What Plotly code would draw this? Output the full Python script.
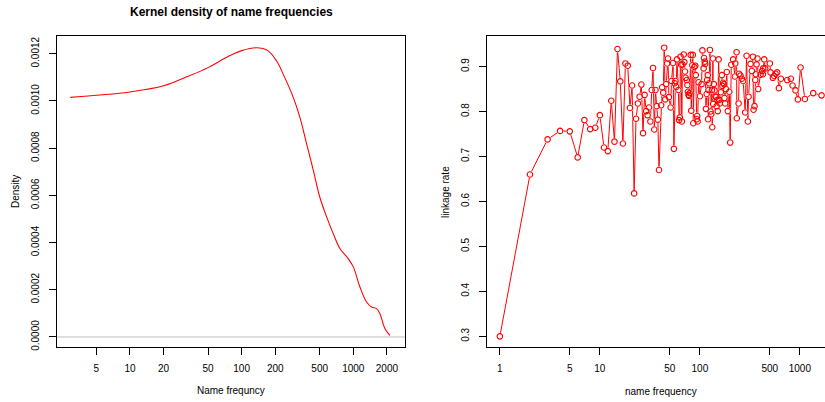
import plotly.graph_objects as go

# ---------------- data ----------------
# Left panel: kernel density of name frequencies
dens_freq = [2.92, 5, 10, 20, 32.2, 50, 73.4, 100, 136, 170, 205, 240, 290, 332.5,
             381.8, 438, 500, 576.8, 661, 759, 899.6, 1000, 1146, 1315, 1458, 1617,
             1729, 1917, 2128]
dens_val = [0.001015, 0.001024, 0.001038, 0.001064, 0.001102, 0.001141, 0.001185, 0.001213,
            0.001225, 0.001214, 0.001170, 0.001105, 0.001015, 0.000930, 0.000818, 0.000707,
            0.000594, 0.000509, 0.000438, 0.000375, 0.000332, 0.000297, 0.000212, 0.000148,
            0.000127, 0.000120, 0.000099, 0.000036, 0.000007]

# Right panel: linkage rate by name frequency
freq_low = [1, 2, 3, 4, 5, 6, 7, 8, 9, 10, 11, 12, 13, 14, 15, 16, 17, 18, 19, 20, 21, 22, 23, 24,
            25, 26, 27, 28, 29, 30, 31, 32, 33, 34, 35, 36, 37, 38, 39, 41, 42, 43, 44, 45, 46, 47, 48, 49]
rate_low = [0.300, 0.660, 0.738, 0.757, 0.756, 0.698, 0.781, 0.761, 0.764, 0.792, 0.720, 0.712,
            0.824, 0.733, 0.939, 0.867, 0.729, 0.907, 0.902, 0.808, 0.858, 0.618, 0.784, 0.818,
            0.833, 0.860, 0.752, 0.837, 0.801, 0.792, 0.809, 0.778, 0.848, 0.897, 0.760, 0.848,
            0.812, 0.782, 0.670, 0.814, 0.854, 0.842, 0.942, 0.827, 0.861, 0.907, 0.918, 0.832]
freq_mid = [51, 52, 54, 55, 56, 57, 58, 59, 61, 62, 63, 64, 65, 66, 67, 69, 70, 71, 72, 74,
            75, 76, 77, 78, 79, 81, 82, 84, 85, 86, 88, 90, 91, 93, 94, 95, 97, 100]
rate_mid = [0.809, 0.868, 0.908, 0.717, 0.863, 0.868, 0.855, 0.916, 0.848, 0.781,
            0.787, 0.922, 0.904, 0.778, 0.905, 0.927, 0.910, 0.889, 0.875, 0.870,
            0.859, 0.844, 0.837, 0.835, 0.841, 0.926, 0.802, 0.903, 0.926, 0.774,
            0.899, 0.902, 0.881, 0.783, 0.790, 0.778, 0.865, 0.834]
freq_hi = [104, 106, 109, 110, 112, 113, 115, 117, 118, 120, 121, 122, 124, 126, 128, 130, 132,
           133, 135, 136, 138, 140, 143, 146, 147, 150, 151, 154, 156, 158, 162, 166, 168, 171,
           174, 176, 179, 182, 186, 190, 197]
rate_hi = [0.861, 0.936, 0.896, 0.919, 0.911, 0.906, 0.806, 0.839, 0.870, 0.881,
           0.783, 0.848, 0.863, 0.937, 0.800, 0.794, 0.848, 0.765, 0.918, 0.817,
           0.861, 0.847, 0.833, 0.833, 0.812, 0.826, 0.801, 0.916, 0.826, 0.818,
           0.843, 0.881, 0.857, 0.864, 0.861, 0.830, 0.818, 0.850, 0.888, 0.801, 0.844]
freq_top = [201, 206, 215, 224, 226, 233, 234, 244, 247, 255, 263, 271, 284, 293, 302, 307, 321,
            331, 339, 344, 352, 358, 363, 369, 377, 383, 404, 420, 427, 430, 440, 450, 501, 509,
            537, 554, 571, 593, 617, 646, 747, 813, 845, 905, 955, 1016, 1122, 1360, 1647]
rate_top = [0.731, 0.904, 0.916, 0.878, 0.907, 0.932, 0.785, 0.818, 0.884, 0.880,
            0.873, 0.868, 0.798, 0.924, 0.778, 0.833, 0.906, 0.890, 0.922, 0.804,
            0.812, 0.870, 0.883, 0.905, 0.918, 0.850, 0.882, 0.890, 0.883, 0.896,
            0.916, 0.896, 0.907, 0.887, 0.875, 0.879, 0.884, 0.887, 0.852, 0.873,
            0.870, 0.873, 0.858, 0.847, 0.827, 0.898, 0.828, 0.841, 0.836]

left_xticks = [5, 10, 20, 50, 100, 200, 500, 1000, 2000]
left_yticks = [0.0, 0.0002, 0.0004, 0.0006, 0.0008, 0.0010, 0.0012]
left_ytext = ["0.0000", "0.0002", "0.0004", "0.0006", "0.0008", "0.0010", "0.0012"]
right_xticks = [1, 5, 10, 50, 100, 500, 1000]
right_yticks = [0.3, 0.4, 0.5, 0.6, 0.7, 0.8, 0.9]

freq_all = freq_low + freq_mid + freq_hi + freq_top
rate_all = rate_low + rate_mid + rate_hi + rate_top

# ---------------- figure ----------------
W, H = 825, 402
FONT = "Liberation Sans, Arial, Helvetica, sans-serif"

def px_x(p):
    return p / W

def px_y(p):
    return 1 - p / H

fig = go.Figure()

fig.add_trace(go.Scatter(x=dens_freq, y=dens_val, mode="lines",
                         line=dict(color="red", width=1.1, shape="spline", smoothing=1.1),
                         xaxis="x", yaxis="y", hoverinfo="skip", showlegend=False))

fig.add_trace(go.Scatter(x=freq_all, y=rate_all, mode="lines",
                         line=dict(color="red", width=1),
                         xaxis="x2", yaxis="y2", showlegend=False, hoverinfo="skip"))
fig.add_trace(go.Scatter(x=freq_all, y=rate_all, mode="markers",
                         marker=dict(symbol="circle", size=7, color="white", line=dict(width=0)),
                         xaxis="x2", yaxis="y2", showlegend=False, hoverinfo="skip"))
fig.add_trace(go.Scatter(x=freq_all, y=rate_all, mode="markers",
                         marker=dict(symbol="circle-open", size=5.5, color="red", line=dict(width=1.1)),
                         xaxis="x2", yaxis="y2", showlegend=False))

# gray zero line in density plot
fig.add_shape(type="line", xref="x domain", yref="y", x0=0, x1=1, y0=0, y1=0,
              line=dict(color="#bebebe", width=1), layer="below")

axis_common = dict(showgrid=False, zeroline=False, showline=True, linecolor="black",
                   linewidth=1, ticks="outside", ticklen=7, tickcolor="black", tickwidth=1,
                   tickfont=dict(family=FONT, size=10, color="black"), automargin=False)

y_dom = [1 - 347.3 / H, 1 - 36 / H]

fig.update_layout(
    width=W, height=H, autosize=False,
    margin=dict(l=0, r=0, t=0, b=0, pad=0),
    paper_bgcolor="white", plot_bgcolor="white",
    font=dict(family=FONT, size=10, color="black"),
    xaxis=dict(type="log", range=[0.349, 3.463], domain=[57.3 / W, 405 / W], anchor="y",
               tickvals=left_xticks, ticktext=[str(v) for v in left_xticks],
               mirror=True, ticklabelstandoff=5, **axis_common),
    yaxis=dict(range=[-0.0000437, 0.001275], domain=y_dom, anchor="x",
               tickvals=left_yticks, ticktext=left_ytext, tickangle=-90,
               mirror=True, ticklabelstandoff=6, **axis_common),
    xaxis2=dict(type="log", range=[-0.1287, -0.1287 + (W - 487) / 100.0],
                domain=[487 / W, 1.0], anchor="y2",
                tickvals=right_xticks, ticktext=[str(v) for v in right_xticks],
                mirror=True, ticklabelstandoff=5, **axis_common),
    yaxis2=dict(range=[0.2757, 0.968], domain=y_dom, anchor="x2",
                tickvals=right_yticks, ticktext=[str(v) for v in right_yticks], tickangle=-90,
                mirror=False, ticklabelstandoff=6, **axis_common),
    showlegend=False,
)

ann = [
    dict(text="<b>Kernel density of name frequencies</b>", x=px_x(231.2), y=px_y(12),
         font=dict(size=12)),
    dict(text="Name frequncy", x=px_x(231.2), y=px_y(390.7), font=dict(size=10)),
    dict(text="Density", x=px_x(15), y=px_y(192), textangle=-90, font=dict(size=10)),
    dict(text="name frequency", x=px_x(660.8), y=px_y(391), font=dict(size=10)),
    dict(text="linkage rate", x=px_x(445), y=px_y(192), textangle=-90, font=dict(size=10)),
]
for a in ann:
    fig.add_annotation(xref="paper", yref="paper", xanchor="center", yanchor="middle",
                       showarrow=False, **a)

fig.write_html("out.html")
